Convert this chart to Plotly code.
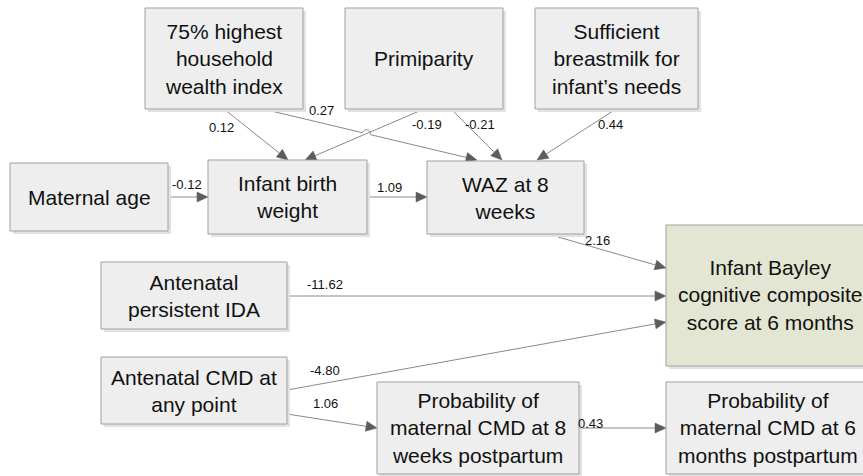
import math
import plotly.graph_objects as go

# ---- data ----
node_labels = [
    "75% highest<br>household<br>wealth index",
    "Primiparity",
    "Sufficient<br>breastmilk for<br>infant’s needs",
    "Maternal age",
    "Infant birth<br>weight",
    "WAZ at 8<br>weeks",
    "Antenatal<br>persistent IDA",
    "Antenatal CMD at<br>any point",
    "Probability of<br>maternal CMD at 8<br>weeks postpartum",
    "Infant Bayley<br>cognitive composite<br>score at 6 months",
    "Probability of<br>maternal CMD at 6<br>months postpartum",
]
edge_source = [0, 0, 1, 1, 2, 3, 4, 5, 6, 7, 7, 8]
edge_target = [4, 5, 4, 5, 5, 4, 5, 9, 9, 9, 8, 10]
edge_coef = ["0.12", "0.27", "-0.19", "-0.21", "0.44", "-0.12", "1.09",
             "2.16", "-11.62", "-4.80", "1.06", "0.43"]

# ---- layout (pixel geometry) ----
W, H = 863, 476
boxes = [  # x0, y0, x1, y1
    (145, 8, 303, 109),
    (345, 8, 503, 109),
    (535, 8, 698, 109),
    (10, 163, 168, 231),
    (208, 160, 367, 234),
    (427, 161, 584, 234),
    (101, 262, 287, 329),
    (101, 357, 287, 424),
    (377, 382, 579, 474),
    (666, 225, 874, 366),
    (666, 382, 874, 474),
]
text_centers = [None] * len(boxes)
text_centers[9] = (770, 295)
text_centers[10] = (768, 428)

edge_geom = [  # tail (x,y), head (x,y), label position
    ((224, 109), (288, 160), (221, 127)),
    ((263, 109), (477, 160), (321, 110)),
    ((424, 109), (305, 160), (427, 124)),
    ((451, 109), (502, 160), (480, 124)),
    ((616, 109), (537, 160), (610, 124)),
    ((168, 197), (208, 197), (187, 184)),
    ((367, 197), (427, 197), (389, 187)),
    ((558, 237), (666, 268), (597, 240)),
    ((287, 296), (666, 296), (325, 284)),
    ((287, 390), (666, 322), (325, 370)),
    ((287, 414), (377, 428), (325, 403)),
    ((579, 428), (666, 428), (590, 423)),
]
hop_edge = 1          # edge drawn with a line jump
hop_point = (366.5, 133.7)

box_fill = "#eeeeee"
box_line = "#a0a0a0"
outcome_fill = "#e3e6d3"
line_col = "#8a8a8a"
head_col = "#5c5c5c"

fig = go.Figure()
shapes = []
annotations = []

# edges
for i, ((tx, ty), (hx, hy), _) in enumerate(edge_geom):
    dx, dy = hx - tx, hy - ty
    L = math.hypot(dx, dy)
    ux, uy = dx / L, dy / L
    alen, ahw = 11, 5
    bx, by = hx - ux * alen, hy - uy * alen
    if i == hop_edge:
        px, py = hop_point
        r = 4
        p1 = (px - ux * r, py - uy * r)
        p2 = (px + ux * r, py + uy * r)
        nx, ny = uy, -ux  # normal pointing up
        c1 = (p1[0] + nx * r * 1.3, p1[1] + ny * r * 1.3)
        c2 = (p2[0] + nx * r * 1.3, p2[1] + ny * r * 1.3)
        path = (f"M {tx},{ty} L {p1[0]},{p1[1]} "
                f"C {c1[0]},{c1[1]} {c2[0]},{c2[1]} {p2[0]},{p2[1]} "
                f"L {bx},{by}")
    else:
        path = f"M {tx},{ty} L {bx},{by}"
    shapes.append(dict(type="path", path=path, xref="x", yref="y",
                       line=dict(color=line_col, width=1), layer="below"))
    # arrow head
    lx, ly = bx + (-uy) * ahw, by + ux * ahw
    rx, ry = bx - (-uy) * ahw, by - ux * ahw
    shapes.append(dict(type="path",
                       path=f"M {hx},{hy} L {lx},{ly} L {rx},{ry} Z",
                       xref="x", yref="y", fillcolor=head_col,
                       line=dict(color=head_col, width=0.5)))

# boxes
for k, (x0, y0, x1, y1) in enumerate(boxes):
    fill = outcome_fill if k == 9 else box_fill
    shapes.append(dict(type="rect", x0=x0 + 3, y0=y0 + 3, x1=x1 + 3, y1=y1 + 3,
                       xref="x", yref="y", fillcolor="#e2e2e2",
                       line=dict(width=0), layer="above"))
    shapes.append(dict(type="rect", x0=x0, y0=y0, x1=x1, y1=y1,
                       xref="x", yref="y", fillcolor=fill,
                       line=dict(color=box_line, width=1), layer="above"))
    cx, cy = text_centers[k] or ((x0 + x1) / 2, (y0 + y1) / 2)
    annotations.append(dict(x=cx, y=cy, xref="x", yref="y",
                            text=node_labels[k], showarrow=False,
                            font=dict(family="Liberation Sans, Arial", size=21,
                                      color="#111111"),
                            align="center", xanchor="center", yanchor="middle"))

# coefficient labels
for i, (_, _, (lx, ly)) in enumerate(edge_geom):
    annotations.append(dict(x=lx, y=ly, xref="x", yref="y", text=edge_coef[i],
                            showarrow=False,
                            font=dict(family="Liberation Sans, Arial", size=13,
                                      color="#111111"),
                            xanchor="center", yanchor="middle"))

fig.update_layout(
    width=W, height=H, margin=dict(l=0, r=0, t=0, b=0),
    paper_bgcolor="white", plot_bgcolor="white",
    xaxis=dict(range=[0, W], visible=False, fixedrange=True),
    yaxis=dict(range=[H, 0], visible=False, fixedrange=True),
    shapes=shapes, annotations=annotations, showlegend=False,
)
fig.write_html("out.html", config={"displayModeBar": False},
               post_script="document.body.style.margin='0';document.body.style.overflow='hidden';")
